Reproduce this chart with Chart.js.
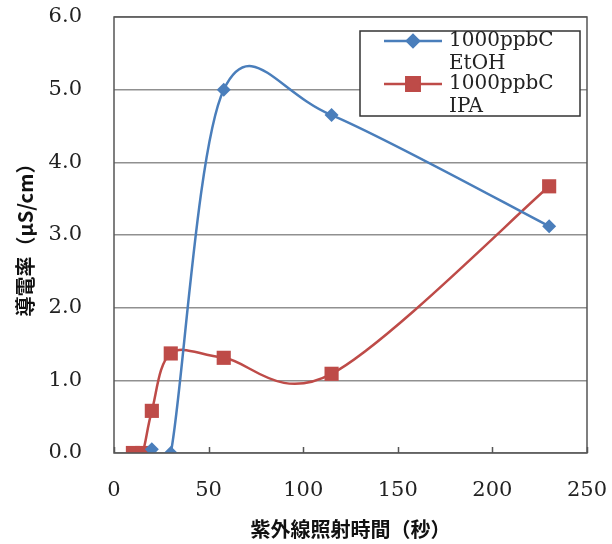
<!DOCTYPE html>
<html>
<head>
<meta charset="utf-8">
<script src="https://cdn.jsdelivr.net/npm/chart.js@4"></script>
<style>
  html, body { margin: 0; padding: 0; background: #fff; }
  #wrap { width: 612px; height: 544px; }
</style>
</head>
<body>
<div id="wrap"><canvas id="chart" width="612" height="544"></canvas></div>
<script>
// data
var etohTime = [20, 30, 58, 115, 230];
var etohCond = [0.05, 0, 5.0, 4.65, 3.12];
var ipaTime = [10, 15, 20, 30, 58, 115, 230];
var ipaCond = [0, 0, 0.58, 1.37, 1.31, 1.09, 3.67];
var seriesNames = [["1000ppbC", "EtOH"], ["1000ppbC", "IPA"]];
var xTicks = [0, 50, 100, 150, 200, 250];
var yTicks = [0, 1, 2, 3, 4, 5, 6];

var blue = "#4A7EBB";
var red = "#BE4B48";
var serif = "'DejaVu Serif', serif";
var cjk = "'Noto Sans CJK JP', sans-serif";

function pts(xs, ys) {
    return xs.map(function (x, i) { return { x: x, y: ys[i] }; });
}

// Excel style smoothing: plain Catmull-Rom, tangent = (next - prev) / 6
var excelSmooth = {
    id: 'excelSmooth',
    beforeDatasetDraw: function (chart, args) {
        var line = args.meta.dataset;
        var p = args.meta.data;
        line.updateControlPoints(chart.chartArea, 'x');
        for (var i = 0; i < p.length; i++) {
            var a = p[Math.max(i - 1, 0)];
            var b = p[Math.min(i + 1, p.length - 1)];
            var mx = (b.x - a.x) / 6;
            var my = (b.y - a.y) / 6;
            p[i].cp1x = p[i].x - mx;
            p[i].cp1y = p[i].y - my;
            p[i].cp2x = p[i].x + mx;
            p[i].cp2y = p[i].y + my;
        }
        line._path = undefined;
    }
};

// box round the plot, inward ticks on the x axis, legend inside the plot
var frame = {
    id: 'frame',
    afterDraw: function (chart) {
        var ctx = chart.ctx;
        var a = chart.chartArea;
        var xs = chart.scales.x;
        ctx.save();
        ctx.strokeStyle = "#555";
        ctx.lineWidth = 1.5;
        ctx.strokeRect(a.left, a.top, a.right - a.left, a.bottom - a.top);
        ctx.beginPath();
        xTicks.forEach(function (v) {
            var px = Math.round(xs.getPixelForValue(v)) + 0.5;
            ctx.moveTo(px, a.bottom);
            ctx.lineTo(px, a.bottom - 6);
        });
        ctx.stroke();

        // legend
        var lx = 360, ly = 31, lw = 220, lh = 85;
        ctx.fillStyle = "#fff";
        ctx.fillRect(lx, ly, lw, lh);
        ctx.strokeStyle = "#333";
        ctx.lineWidth = 1.5;
        ctx.strokeRect(lx, ly, lw, lh);
        ctx.font = "20px " + serif;
        ctx.textBaseline = "middle";
        chart.data.datasets.forEach(function (ds, i) {
            var y = ly + 10 + i * 43;
            ctx.strokeStyle = ds.borderColor;
            ctx.lineWidth = 2.5;
            ctx.beginPath();
            ctx.moveTo(lx + 24, y);
            ctx.lineTo(lx + 82, y);
            ctx.stroke();
            Chart.helpers.drawPoint(ctx, {
                pointStyle: ds.pointStyle,
                radius: i === 0 ? 6 : 9.5,
                borderWidth: 1
            }, lx + 53, y);
            ctx.fillStyle = ds.borderColor;
            ctx.fill();
            ctx.fillStyle = "#222";
            seriesNames[i].forEach(function (t, k) {
                ctx.fillText(t, lx + 89, y + k * 23);
            });
        });
        ctx.restore();
    }
};

new Chart(document.getElementById("chart"), {
    type: 'line',
    data: {
        datasets: [
            {
                label: seriesNames[0].join(" "),
                data: pts(etohTime, etohCond),
                borderColor: blue,
                backgroundColor: blue,
                borderWidth: 2.5,
                pointStyle: 'rectRot',
                pointRadius: 7,
                pointBorderWidth: 0,
                tension: 0.4
            },
            {
                label: seriesNames[1].join(" "),
                data: pts(ipaTime, ipaCond),
                borderColor: red,
                backgroundColor: red,
                borderWidth: 2.5,
                pointStyle: 'rect',
                pointRadius: 10,
                pointBorderWidth: 0,
                tension: 0.4
            }
        ]
    },
    options: {
        responsive: false,
        animation: false,
        layout: { padding: { top: 17, right: 25, left: 0, bottom: 0 } },
        plugins: {
            legend: { display: false },
            tooltip: { enabled: false }
        },
        scales: {
            x: {
                type: 'linear',
                min: 0,
                max: 250,
                afterBuildTicks: function (s) { s.ticks = xTicks.map(function (v) { return { value: v }; }); },
                afterFit: function (s) {
                    s.height = 91;
                    s.paddingLeft = 0;
                    s.paddingRight = 0;
                },
                grid: { drawOnChartArea: false, drawTicks: true, tickLength: 25, color: 'rgba(0,0,0,0)' },
                border: { display: false },
                ticks: {
                    padding: 0,
                    color: "#222",
                    maxRotation: 0,
                    font: { family: serif, size: 21 }
                },
                title: {
                    display: true,
                    text: "紫外線照射時間（秒）",
                    color: "#111",
                    font: { family: cjk, size: 20, weight: 'bold' },
                    padding: { bottom: 3, top: 0 }
                }
            },
            y: {
                min: 0,
                max: 6,
                afterBuildTicks: function (s) { s.ticks = yTicks.map(function (v) { return { value: v }; }); },
                afterFit: function (s) {
                    s.width = 114;
                    s.paddingTop = 0;
                    s.paddingBottom = 0;
                },
                grid: { color: "#909090", lineWidth: 1.5, drawTicks: false },
                border: { display: false },
                ticks: {
                    padding: 32,
                    color: "#222",
                    font: { family: serif, size: 21 },
                    callback: function (v) { return v.toFixed(1); }
                },
                title: {
                    display: true,
                    text: "導電率（μS/cm）",
                    color: "#111",
                    font: { family: cjk, size: 20, weight: 'bold' },
                    padding: { top: 13, bottom: 0 }
                }
            }
        }
    },
    plugins: [excelSmooth, frame]
});
</script>
</body>
</html>
